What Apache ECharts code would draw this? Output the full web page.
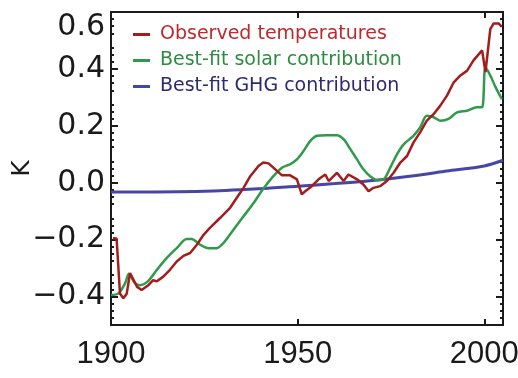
<!DOCTYPE html>
<html><head><meta charset="utf-8">
<script src="https://cdn.jsdelivr.net/npm/echarts@6/dist/echarts.min.js"></script>
<style>html,body{margin:0;padding:0;background:#fff}#c{width:518px;height:378px}</style>
</head><body><div id="c"></div>
<script>
const obsYears = [1900.5,1901.5,1902.4,1903.3,1904.2,1905.1,1906,1907,1908.2,1910,1911.3,1912.2,1914,1915.8,1917.6,1919.4,1921.2,1923,1924.8,1926.5,1929.2,1931.9,1933.7,1935.5,1937.3,1939.5,1940.8,1942.2,1944,1945.8,1948,1949.8,1951.1,1952,1953.8,1955.6,1957.4,1958.3,1960.5,1962.3,1963.6,1965.9,1967.6,1969,1970.3,1972.1,1973.9,1975.7,1977.5,1979.3,1981,1982.8,1984.6,1986.4,1988.2,1990,1991.8,1993.6,1995.4,1997.1,1999.4,2000.3,2001.6,2002.5,2003.8,2004.7];
const obsValues = [-0.195,-0.196,-0.389,-0.406,-0.39,-0.318,-0.34,-0.366,-0.377,-0.36,-0.342,-0.347,-0.33,-0.306,-0.277,-0.257,-0.247,-0.218,-0.183,-0.159,-0.124,-0.088,-0.053,-0.018,0.023,0.059,0.071,0.068,0.047,0.026,0.026,0.012,-0.041,-0.03,-0.012,0.012,0.029,0.006,0.035,0.006,0.029,0.012,-0.006,-0.03,-0.018,-0.012,0.006,0.035,0.071,0.094,0.141,0.177,0.218,0.241,0.271,0.306,0.353,0.377,0.394,0.43,0.465,0.389,0.54,0.56,0.56,0.548];
const solarYears = [1900,1902,1903.8,1904.8,1906.4,1907.8,1910,1912.3,1914.9,1917.6,1920.3,1921.6,1923.9,1926.1,1928.3,1930.1,1932.8,1935.5,1938.2,1940.8,1943.5,1945.8,1948,1949.8,1951.6,1953.4,1955.2,1957.8,1960.5,1962.3,1964.1,1965.9,1967.6,1969.4,1971.2,1973,1974.8,1976.6,1978.4,1981,1982.8,1984.6,1986.4,1988.2,1990.4,1992.7,1995.4,1998,1999.4,2000.3,2001.6,2003,2004.7];
const solarValues = [-0.395,-0.389,-0.353,-0.32,-0.353,-0.36,-0.345,-0.306,-0.265,-0.23,-0.198,-0.198,-0.218,-0.23,-0.23,-0.212,-0.165,-0.118,-0.071,-0.021,0.023,0.053,0.065,0.082,0.112,0.147,0.165,0.167,0.167,0.153,0.118,0.082,0.047,0.023,0.009,0.012,0.053,0.1,0.135,0.165,0.194,0.235,0.23,0.218,0.224,0.247,0.253,0.265,0.265,0.406,0.377,0.336,0.294];
const ghgYears = [1900,1925,1940,1950,1960,1970,1980,1990,2000,2005];
const ghgValues = [-0.033,-0.03,-0.021,-0.012,-0.003,0.008,0.023,0.041,0.059,0.079];
const yTickLabels = [-0.4,-0.2,0,0.2,0.4,0.6];
const xTickLabels = [1900,1950,2000];
const seriesNames = ['Observed temperatures','Best-fit solar contribution','Best-fit GHG contribution'];

const zip = (xs, ys) => xs.map((x, i) => [x, ys[i]]);
const font = 'DejaVu Sans';
const ink = '#1a1a1a';
const mkLine = () => ({show:true, onZero:false, lineStyle:{color:ink, width:2}});
const mkTick = (len, custom) => {
  const t = {show:true, inside:true, length:len, lineStyle:{color:ink, width:2}};
  if (custom) t.customValues = custom;
  return t;
};
const mkMinor = () => ({show:true, splitNumber:4, length:3, lineStyle:{color:ink, width:2}});
const fmtY = v => (v < 0 ? '\u2212' : '') + Math.abs(v).toFixed(1);

const chart = echarts.init(document.getElementById('c'), null, {renderer:'canvas'});
chart.setOption({
  animation:false,
  backgroundColor:'#fff',
  grid:{left:111, right:15, top:12, bottom:53, containLabel:false, outerBoundsMode:'none',
        show:true, borderColor:ink, borderWidth:2, backgroundColor:'transparent'},
  legend:{
    orient:'vertical', left:128, top:20, itemWidth:17, itemHeight:3, itemGap:7, icon:'rect',
    textStyle:{fontFamily:font, fontSize:19, padding:[0,0,0,5]},
    data:[
      {name:seriesNames[0], textStyle:{color:'#c0282a'}},
      {name:seriesNames[1], textStyle:{color:'#2b8c42'}},
      {name:seriesNames[2], textStyle:{color:'#2b2b6e'}}
    ]
  },
  xAxis:[
    {type:'value', min:1900, max:2005, interval:50, position:'bottom',
     axisLine:mkLine(), splitLine:{show:false}, axisTick:mkTick(6),
     axisLabel:{fontFamily:'Liberation Sans', fontSize:31, color:ink, margin:14, customValues:xTickLabels, formatter:v => String(v)}},
    {type:'value', min:1900, max:2005, interval:50, position:'top',
     axisLine:mkLine(), splitLine:{show:false}, axisTick:mkTick(6),
     axisLabel:{show:false}}
  ],
  yAxis:[
    {type:'value', min:-0.5, max:0.6, interval:0.1, position:'left',
     name:'K', nameLocation:'middle', nameRotate:90, nameGap:76, nameMoveOverlap:false,
     nameTextStyle:{fontFamily:font, fontSize:25, color:ink},
     axisLine:mkLine(), splitLine:{show:false},
     axisTick:mkTick(7, yTickLabels), minorTick:mkMinor(),
     axisLabel:{fontFamily:font, fontSize:30, color:ink, margin:6, customValues:yTickLabels, formatter:fmtY,
                verticalAlignMaxLabel:'top'}},
    {type:'value', min:-0.5, max:0.6, interval:0.1, position:'right',
     axisLine:mkLine(), splitLine:{show:false},
     axisTick:mkTick(7, yTickLabels), minorTick:mkMinor(),
     axisLabel:{show:false}}
  ],
  series:[
    {name:seriesNames[2], type:'line', data:zip(ghgYears, ghgValues), smooth:0.3, showSymbol:false,
     lineStyle:{color:'#4646a6', width:3}, itemStyle:{color:'#4646a6'}},
    {name:seriesNames[1], type:'line', data:zip(solarYears, solarValues), smooth:0.3, showSymbol:false,
     lineStyle:{color:'#2f9a4a', width:2.5}, itemStyle:{color:'#2f9a4a'}},
    {name:seriesNames[0], type:'line', data:zip(obsYears, obsValues), showSymbol:false,
     lineStyle:{color:'#a31d1d', width:2.5}, itemStyle:{color:'#a31d1d'}}
  ]
});
</script></body></html>
